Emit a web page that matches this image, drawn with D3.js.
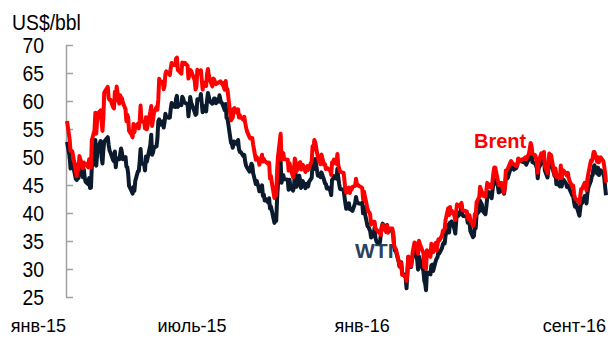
<!DOCTYPE html>
<html><head><meta charset="utf-8">
<script src="https://cdn.jsdelivr.net/npm/d3@7"></script>
<style>body{margin:0;background:#fff}text{font-family:"Liberation Sans",Arial,sans-serif}</style>
</head><body><svg id="c" width="608" height="339"></svg>
<script>
const dates = [
"2015-01-02","2015-01-05","2015-01-06","2015-01-07","2015-01-08","2015-01-09","2015-01-12","2015-01-13","2015-01-14","2015-01-15","2015-01-16","2015-01-20","2015-01-21","2015-01-22","2015-01-23","2015-01-26","2015-01-27","2015-01-28","2015-01-29","2015-01-30",
"2015-02-02","2015-02-03","2015-02-04","2015-02-05","2015-02-06","2015-02-09","2015-02-10","2015-02-11","2015-02-12","2015-02-13","2015-02-17","2015-02-18","2015-02-19","2015-02-20","2015-02-23","2015-02-24","2015-02-25","2015-02-26","2015-02-27",
"2015-03-02","2015-03-03","2015-03-04","2015-03-05","2015-03-06","2015-03-09","2015-03-10","2015-03-11","2015-03-12","2015-03-13","2015-03-16","2015-03-17","2015-03-18","2015-03-19","2015-03-20","2015-03-23","2015-03-24","2015-03-25","2015-03-26","2015-03-27","2015-03-30","2015-03-31",
"2015-04-01","2015-04-02","2015-04-06","2015-04-07","2015-04-08","2015-04-09","2015-04-10","2015-04-13","2015-04-14","2015-04-15","2015-04-16","2015-04-17","2015-04-20","2015-04-21","2015-04-22","2015-04-23","2015-04-24","2015-04-27","2015-04-28","2015-04-29","2015-04-30",
"2015-05-01","2015-05-04","2015-05-05","2015-05-06","2015-05-07","2015-05-08","2015-05-11","2015-05-12","2015-05-13","2015-05-14","2015-05-15","2015-05-18","2015-05-19","2015-05-20","2015-05-21","2015-05-22","2015-05-26","2015-05-27","2015-05-28","2015-05-29",
"2015-06-01","2015-06-02","2015-06-03","2015-06-04","2015-06-05","2015-06-08","2015-06-09","2015-06-10","2015-06-11","2015-06-12","2015-06-15","2015-06-16","2015-06-17","2015-06-18","2015-06-19","2015-06-22","2015-06-23","2015-06-24","2015-06-25","2015-06-26","2015-06-29","2015-06-30",
"2015-07-01","2015-07-02","2015-07-06","2015-07-07","2015-07-08","2015-07-09","2015-07-10","2015-07-13","2015-07-14","2015-07-15","2015-07-16","2015-07-17","2015-07-20","2015-07-21","2015-07-22","2015-07-23","2015-07-24","2015-07-27","2015-07-28","2015-07-29","2015-07-30","2015-07-31",
"2015-08-03","2015-08-04","2015-08-05","2015-08-06","2015-08-07","2015-08-10","2015-08-11","2015-08-12","2015-08-13","2015-08-14","2015-08-17","2015-08-18","2015-08-19","2015-08-20","2015-08-21","2015-08-24","2015-08-25","2015-08-26","2015-08-27","2015-08-28","2015-08-31",
"2015-09-01","2015-09-02","2015-09-03","2015-09-04","2015-09-08","2015-09-09","2015-09-10","2015-09-11","2015-09-14","2015-09-15","2015-09-16","2015-09-17","2015-09-18","2015-09-21","2015-09-22","2015-09-23","2015-09-24","2015-09-25","2015-09-28","2015-09-29","2015-09-30",
"2015-10-01","2015-10-02","2015-10-05","2015-10-06","2015-10-07","2015-10-08","2015-10-09","2015-10-12","2015-10-13","2015-10-14","2015-10-15","2015-10-16","2015-10-19","2015-10-20","2015-10-21","2015-10-22","2015-10-23","2015-10-26","2015-10-27","2015-10-28","2015-10-29","2015-10-30",
"2015-11-02","2015-11-03","2015-11-04","2015-11-05","2015-11-06","2015-11-09","2015-11-10","2015-11-11","2015-11-12","2015-11-13","2015-11-16","2015-11-17","2015-11-18","2015-11-19","2015-11-20","2015-11-23","2015-11-24","2015-11-25","2015-11-27","2015-11-30",
"2015-12-01","2015-12-02","2015-12-03","2015-12-04","2015-12-07","2015-12-08","2015-12-09","2015-12-10","2015-12-11","2015-12-14","2015-12-15","2015-12-16","2015-12-17","2015-12-18","2015-12-21","2015-12-22","2015-12-23","2015-12-24","2015-12-28","2015-12-29","2015-12-30","2015-12-31",
"2016-01-04","2016-01-05","2016-01-06","2016-01-07","2016-01-08","2016-01-11","2016-01-12","2016-01-13","2016-01-14","2016-01-15","2016-01-19","2016-01-20","2016-01-21","2016-01-22","2016-01-25","2016-01-26","2016-01-27","2016-01-28","2016-01-29",
"2016-02-01","2016-02-02","2016-02-03","2016-02-04","2016-02-05","2016-02-08","2016-02-09","2016-02-10","2016-02-11","2016-02-12","2016-02-16","2016-02-17","2016-02-18","2016-02-19","2016-02-22","2016-02-23","2016-02-24","2016-02-25","2016-02-26","2016-02-29",
"2016-03-01","2016-03-02","2016-03-03","2016-03-04","2016-03-07","2016-03-08","2016-03-09","2016-03-10","2016-03-11","2016-03-14","2016-03-15","2016-03-16","2016-03-17","2016-03-18","2016-03-21","2016-03-22","2016-03-23","2016-03-24","2016-03-28","2016-03-29","2016-03-30","2016-03-31",
"2016-04-01","2016-04-04","2016-04-05","2016-04-06","2016-04-07","2016-04-08","2016-04-11","2016-04-12","2016-04-13","2016-04-14","2016-04-15","2016-04-18","2016-04-19","2016-04-20","2016-04-21","2016-04-22","2016-04-25","2016-04-26","2016-04-27","2016-04-28","2016-04-29",
"2016-05-02","2016-05-03","2016-05-04","2016-05-05","2016-05-06","2016-05-09","2016-05-10","2016-05-11","2016-05-12","2016-05-13","2016-05-16","2016-05-17","2016-05-18","2016-05-19","2016-05-20","2016-05-23","2016-05-24","2016-05-25","2016-05-26","2016-05-27","2016-05-31",
"2016-06-01","2016-06-02","2016-06-03","2016-06-06","2016-06-07","2016-06-08","2016-06-09","2016-06-10","2016-06-13","2016-06-14","2016-06-15","2016-06-16","2016-06-17","2016-06-20","2016-06-21","2016-06-22","2016-06-23","2016-06-24","2016-06-27","2016-06-28","2016-06-29","2016-06-30",
"2016-07-01","2016-07-05","2016-07-06","2016-07-07","2016-07-08","2016-07-11","2016-07-12","2016-07-13","2016-07-14","2016-07-15","2016-07-18","2016-07-19","2016-07-20","2016-07-21","2016-07-22","2016-07-25","2016-07-26","2016-07-27","2016-07-28","2016-07-29",
"2016-08-01","2016-08-02","2016-08-03","2016-08-04","2016-08-05","2016-08-08","2016-08-09","2016-08-10","2016-08-11","2016-08-12","2016-08-15","2016-08-16","2016-08-17","2016-08-18","2016-08-19","2016-08-22","2016-08-23","2016-08-24","2016-08-25","2016-08-26","2016-08-29","2016-08-30","2016-08-31",
"2016-09-01"
];
const wti = [
52.69,50.04,47.93,48.65,48.79,48.36,46.07,45.89,48.48,46.25,48.69,46.39,47.78,46.31,45.59,45.15,46.23,44.45,44.53,48.24,
49.57,53.05,48.45,50.48,51.69,52.86,50.02,48.84,51.21,52.78,53.53,52.14,51.16,50.81,49.45,49.25,50.99,48.17,49.76,
49.59,50.52,51.53,50.76,49.61,50.00,48.29,48.17,47.05,44.84,43.88,43.46,44.66,43.96,45.72,47.45,47.51,49.21,51.43,48.87,48.68,47.60,
50.09,49.14,52.14,53.98,50.42,50.79,51.64,51.91,53.29,56.39,56.71,55.74,56.38,55.26,56.16,57.74,57.15,56.99,57.06,58.58,59.63,
59.15,58.93,60.40,60.93,58.94,59.39,59.25,60.75,60.50,59.88,59.69,59.43,57.26,58.98,60.72,59.72,58.03,57.51,57.68,60.30,
60.20,61.26,59.64,58.00,59.13,58.14,60.14,61.43,60.77,59.96,59.52,59.97,60.45,60.45,59.61,60.01,61.01,60.27,59.70,59.63,58.33,59.47,
56.96,56.93,52.53,52.33,51.65,52.78,52.74,52.20,53.04,51.41,50.91,50.89,50.15,50.36,49.19,48.45,48.14,47.39,47.98,48.79,48.52,47.12,
45.17,45.74,45.15,44.66,43.87,44.96,43.08,43.30,42.23,42.50,41.87,42.62,40.80,41.14,40.45,38.24,39.31,38.60,42.56,45.22,49.20,
45.41,46.25,46.75,46.05,45.94,44.15,45.92,44.63,44.00,44.59,47.15,46.90,44.68,46.68,45.83,44.48,45.22,45.70,44.43,45.23,45.09,
44.74,45.54,46.26,48.53,47.81,49.43,49.63,46.66,46.66,46.64,46.38,47.26,45.89,45.29,45.20,44.38,44.60,43.98,43.20,45.94,46.06,46.59,
46.14,47.90,46.32,45.20,44.29,44.21,44.21,42.93,41.75,40.74,41.74,40.67,40.75,40.54,40.39,41.75,42.87,42.04,41.71,41.65,
41.85,39.94,41.08,39.97,37.65,37.51,37.16,36.76,35.62,36.31,37.35,35.52,34.95,34.73,34.74,36.14,37.50,38.10,36.81,37.87,36.60,37.04,
36.76,35.97,33.97,33.27,33.16,31.41,30.44,30.48,31.20,29.42,28.46,26.55,29.53,32.19,30.34,31.45,32.30,33.22,33.62,
31.62,29.88,32.28,31.72,30.89,29.69,27.94,27.45,26.21,29.44,29.04,30.66,30.77,29.64,31.48,31.87,32.15,33.07,32.78,33.75,
34.40,34.66,34.57,35.92,37.90,36.50,38.29,37.84,38.50,37.18,36.34,38.46,40.20,39.44,39.91,41.45,39.79,39.46,39.39,38.28,38.32,38.34,
36.79,35.70,35.89,37.75,37.26,39.72,40.36,42.17,41.76,41.50,40.36,39.78,41.08,42.63,43.18,43.73,42.64,44.04,45.33,46.03,45.92,
44.78,43.65,43.78,44.32,44.66,43.44,44.66,46.23,46.70,46.21,47.72,48.31,48.19,48.16,47.75,48.08,48.62,49.56,49.48,49.33,49.10,
49.01,49.17,48.62,49.69,50.36,51.23,50.56,49.07,48.88,48.49,48.01,46.21,47.98,48.94,49.37,49.13,50.11,47.64,46.33,47.85,49.88,48.33,
48.99,46.60,47.43,45.14,45.41,44.76,46.80,44.75,45.68,45.95,45.24,44.65,44.94,44.75,44.19,43.13,42.92,41.92,41.14,41.60,
40.06,39.51,40.83,41.93,41.80,43.02,42.77,41.71,43.49,44.49,45.74,46.58,46.79,48.22,48.52,47.05,48.10,46.77,47.33,47.64,46.98,46.35,44.70,
43.16
];
const brent = [
56.42,53.11,51.10,51.15,50.96,50.11,47.43,46.59,48.69,47.67,50.17,47.99,49.03,48.52,48.79,48.16,49.60,48.47,48.13,52.99,
54.75,57.91,54.16,56.57,57.80,58.34,56.43,54.66,57.05,61.52,62.53,60.53,60.21,60.22,58.90,58.66,61.63,60.05,62.58,
59.54,61.02,60.55,60.48,59.73,58.53,56.39,57.54,57.05,54.67,53.94,53.51,55.91,54.43,55.32,55.92,55.11,56.48,59.19,56.41,56.29,55.11,
57.10,54.95,58.12,59.10,55.55,56.57,57.87,58.93,58.43,60.32,63.98,63.45,63.45,62.08,62.72,64.85,65.28,64.83,64.64,65.84,66.78,
66.46,66.45,67.52,67.77,65.54,65.39,64.91,66.86,66.81,66.59,66.81,66.27,64.02,64.72,65.54,65.37,63.72,62.06,62.58,65.56,
64.88,65.49,63.80,62.03,63.31,62.69,64.88,65.70,64.56,63.87,62.61,64.00,63.87,63.39,63.02,63.34,63.38,63.49,63.20,63.26,62.01,63.59,
62.01,62.07,56.54,56.85,57.05,58.61,58.73,57.85,58.51,57.05,57.46,57.10,56.65,57.16,56.13,55.27,54.62,53.47,53.30,53.38,53.38,52.21,
49.52,49.99,49.59,49.52,48.61,50.41,49.18,49.66,49.22,49.19,48.74,49.00,46.16,46.62,45.46,42.69,43.21,43.14,47.56,50.05,54.15,
49.56,50.50,50.68,49.61,49.52,47.58,48.89,48.14,46.37,47.75,49.75,49.08,47.47,48.92,49.08,47.75,48.21,48.60,47.34,48.23,48.37,
47.69,48.13,49.25,51.92,51.33,53.05,52.65,49.86,49.24,49.15,48.71,50.46,48.61,48.71,47.85,47.99,47.99,47.54,46.81,49.05,48.80,49.56,
48.79,50.54,48.58,47.98,47.42,47.19,47.19,45.81,44.06,43.61,44.56,43.57,44.14,44.18,44.66,44.83,46.12,45.17,44.86,44.61,
44.44,42.49,43.84,43.00,40.73,40.26,40.11,39.73,37.93,38.45,38.45,37.19,37.06,36.88,36.35,36.11,37.36,37.89,36.62,37.79,36.46,37.28,
37.22,36.42,34.23,33.75,33.55,31.55,30.86,30.31,31.03,28.94,28.76,27.88,29.25,32.18,30.50,31.80,33.10,33.89,34.74,
34.24,32.72,35.04,34.46,34.06,32.88,30.32,30.84,30.06,33.36,32.18,34.50,34.28,33.01,34.69,33.27,34.41,35.29,35.10,35.97,
36.81,36.93,37.07,38.72,40.84,39.65,41.07,40.05,40.39,39.53,38.74,40.33,41.54,41.20,41.54,41.79,40.47,40.44,40.27,39.14,38.86,39.60,
38.67,37.69,37.87,39.84,39.43,41.94,42.83,44.69,44.18,43.84,43.10,42.91,44.03,45.38,44.53,45.11,44.48,45.74,47.18,48.14,48.13,
45.83,44.97,45.01,45.01,45.37,43.63,44.66,47.61,47.59,47.83,48.97,49.28,48.93,48.81,48.72,48.35,48.62,49.74,49.59,49.32,49.69,
49.72,49.95,49.64,50.55,51.44,52.51,51.95,50.54,50.35,49.83,48.97,47.19,49.17,50.65,49.96,49.88,50.91,48.41,47.16,48.58,50.61,49.68,
50.35,46.80,47.96,46.40,46.76,46.25,48.47,46.26,47.37,47.61,46.96,46.66,47.17,46.20,45.69,44.72,44.87,43.47,42.70,42.46,
42.14,41.80,43.10,44.29,44.27,45.39,44.98,44.05,46.04,46.97,49.35,49.23,49.85,50.89,50.88,49.16,49.96,49.05,49.67,49.92,49.26,48.37,47.04,
45.45
];
const yTicks = [25,30,35,40,45,50,55,60,65,70];
const xTickDates = ["2015-01-01","2015-07-01","2016-01-01","2016-09-01"];
const xTickLabels = ["янв-15","июль-15","янв-16","сент-16"];
const unitLabel = "US$/bbl";
const seriesNames = ["WTI","Brent"];

if (dates.length !== wti.length || dates.length !== brent.length) {
  throw new Error("length mismatch " + dates.length + " " + wti.length + " " + brent.length);
}
const parse = d3.timeParse("%Y-%m-%d");
const D = dates.map(parse);

const svg = d3.select("#c");
svg.append("rect").attr("width",608).attr("height",339).attr("fill","#fff");

const x = d3.scaleTime().domain([parse("2015-01-02"), parse("2016-09-01")]).range([67, 606]);
const y = d3.scaleLinear().domain([25,70]).range([297,45]);

// y axis
const yAxis = svg.append("g").attr("transform","translate(66,0)")
  .call(d3.axisRight(y).tickValues(yTicks).tickSize(7).tickFormat(""));
yAxis.selectAll("path,line").attr("stroke","#a0a0a0").attr("stroke-width",1.5);
yAxis.select(".domain").attr("d","M0.5," + y(70) + "V" + y(25));

svg.append("g").selectAll("g").data(yTicks).join("g")
  .attr("transform",d=>"translate(44," + y(d) + ") scale(0.88,1)")
  .append("text").attr("dy","0.36em")
  .attr("text-anchor","end").attr("font-size",22).attr("fill","#000")
  .text(d=>d);

svg.append("g").attr("transform","translate(12,30) scale(0.88,1)")
  .append("text").attr("font-size",22).attr("fill","#000").text(unitLabel);

// x labels (right-aligned at tick dates)
svg.append("g").selectAll("text").data(xTickDates).join("text")
  .attr("x",d=>x(parse(d))).attr("y",332).attr("text-anchor","end")
  .attr("font-size",18).attr("fill","#000")
  .text((d,i)=>xTickLabels[i]);

// series labels
svg.append("text").attr("x",355).attr("y",258).attr("font-size",21).attr("font-weight","bold")
  .attr("fill","#2c4160").text(seriesNames[0]);
svg.append("text").attr("x",474).attr("y",148).attr("font-size",20).attr("font-weight","bold")
  .attr("fill","#ff0000").text(seriesNames[1]);

const line = vals => d3.line().x((d,i)=>x(D[i])).y(d=>y(d)).curve(d3.curveLinear)(vals);
svg.append("path").attr("d",line(wti)).attr("fill","none").attr("stroke","#0b1a2c")
  .attr("stroke-width",4).attr("stroke-linejoin","round");
svg.append("path").attr("d",line(brent)).attr("fill","none").attr("stroke","#ff0000")
  .attr("stroke-width",4).attr("stroke-linejoin","round");
</script></body></html>
